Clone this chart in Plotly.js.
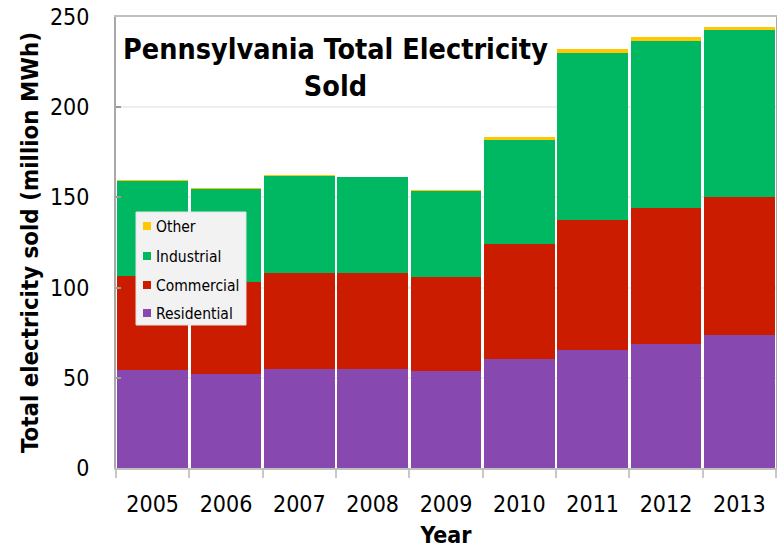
<!DOCTYPE html>
<html>
<head>
<meta charset="utf-8">
<script src="https://cdn.plot.ly/plotly-3.0.1.min.js"></script>
<style>html,body{margin:0;padding:0;background:#fff;}#chart{width:777px;height:550px;}</style>
</head>
<body>
<div id="chart"></div>
<script>
var years = ["2005","2006","2007","2008","2009","2010","2011","2012","2013"];
var residential = [54.3, 52.3, 55.1, 55.1, 53.6, 60.2, 65.2, 68.9, 73.9];
var commercial  = [52.1, 50.6, 52.8, 52.8, 52.3, 63.8, 72.5, 75.1, 76.1];
var industrial  = [52.7, 51.8, 53.8, 53.2, 47.8, 57.6, 92.5, 92.7, 93.0];
var other       = [0.6, 0.7, 0.5, 0.4, 0.6, 1.7, 2.2, 2.1, 1.6];
var seriesNames = ["Residential","Commercial","Industrial","Other"];
var seriesColors = ["#8749b0","#cc1c00","#00b862","#ffc800"];
var seriesValues = [residential, commercial, industrial, other];

var FONT = "'DejaVu Sans Condensed', 'DejaVu Sans', sans-serif";

var traces = seriesValues.map(function(vals, i){
  return {
    type: "bar", x: years, y: vals, name: seriesNames[i],
    marker: {color: seriesColors[i], line: {width: 0}},
    hoverinfo: "x+y+name"
  };
});

// Plot area geometry (pixels) used to convert legend box to paper coords
var PL = 116, PR = 776, PT = 17, PB = 468;
function px2x(px){ return (px - PL) / (PR - PL); }
function py2y(py){ return (PB - py) / (PB - PT); }

var shapes = [{
  type: "rect", xref: "paper", yref: "paper",
  x0: px2x(136), x1: px2x(246), y0: py2y(325), y1: py2y(212),
  fillcolor: "#f2f2f2", line: {color: "#e2e2e2", width: 1}, layer: "above"
}];
var annotations = [{
  xref: "paper", yref: "paper", x: px2x(335), y: py2y(31),
  xanchor: "center", yanchor: "top", showarrow: false, align: "center",
  text: "<b>Pennsylvania Total Electricity<br>Sold</b>",
  font: {size: 28.5, family: FONT, color: "#000"}
}];
// legend: top to bottom Other, Industrial, Commercial, Residential
var legendRows = [226, 256, 285, 313];
for (var k = 0; k < seriesNames.length; k++) {
  var idx = seriesNames.length - 1 - k;
  var cy = legendRows[k];
  shapes.push({
    type: "rect", xref: "paper", yref: "paper",
    x0: px2x(143), x1: px2x(151), y0: py2y(cy + 4), y1: py2y(cy - 4),
    fillcolor: seriesColors[idx], line: {width: 0}, layer: "above"
  });
  annotations.push({
    xref: "paper", yref: "paper", x: px2x(154), y: py2y(cy + 1),
    xanchor: "left", yanchor: "middle", showarrow: false,
    text: seriesNames[idx], font: {size: 15.5, family: FONT, color: "#000"}
  });
}

var layout = {
  width: 777, height: 550,
  margin: {l: PL, r: 777 - PR, t: PT, b: 550 - PB, pad: 0},
  paper_bgcolor: "#ffffff", plot_bgcolor: "#ffffff",
  barmode: "stack", bargap: 0.035,
  font: {family: FONT, color: "#000000"},
  showlegend: false,
  xaxis: {
    type: "category", tickson: "boundaries", ticks: "outside", ticklen: 8,
    tickcolor: "#c8c8c8", tickwidth: 2,
    showline: true, linecolor: "#c0c0c0", linewidth: 2, mirror: true,
    showgrid: false, tickfont: {size: 23, family: FONT}, ticklabelstandoff: 14,
    title: {text: "Year", font: {size: 23, family: FONT, weight: "bold"}, standoff: 11}
  },
  yaxis: {
    range: [0, 250], dtick: 50, tick0: 0,
    ticks: "inside", ticklen: 5, tickcolor: "#9a9a9a", tickwidth: 2,
    showline: true, linecolor: "#a8a8a8", linewidth: 2, mirror: true,
    showgrid: true, gridcolor: "#eeeeee", gridwidth: 2, zeroline: false,
    tickfont: {size: 23, family: FONT}, ticklabelstandoff: 20,
    title: {text: "Total electricity sold (million MWh)", font: {size: 23.8, family: FONT, weight: "bold"}, standoff: 5}
  },
  shapes: shapes,
  annotations: annotations
};

Plotly.newPlot("chart", traces, layout, {displayModeBar: false, staticPlot: true});
</script>
</body>
</html>
